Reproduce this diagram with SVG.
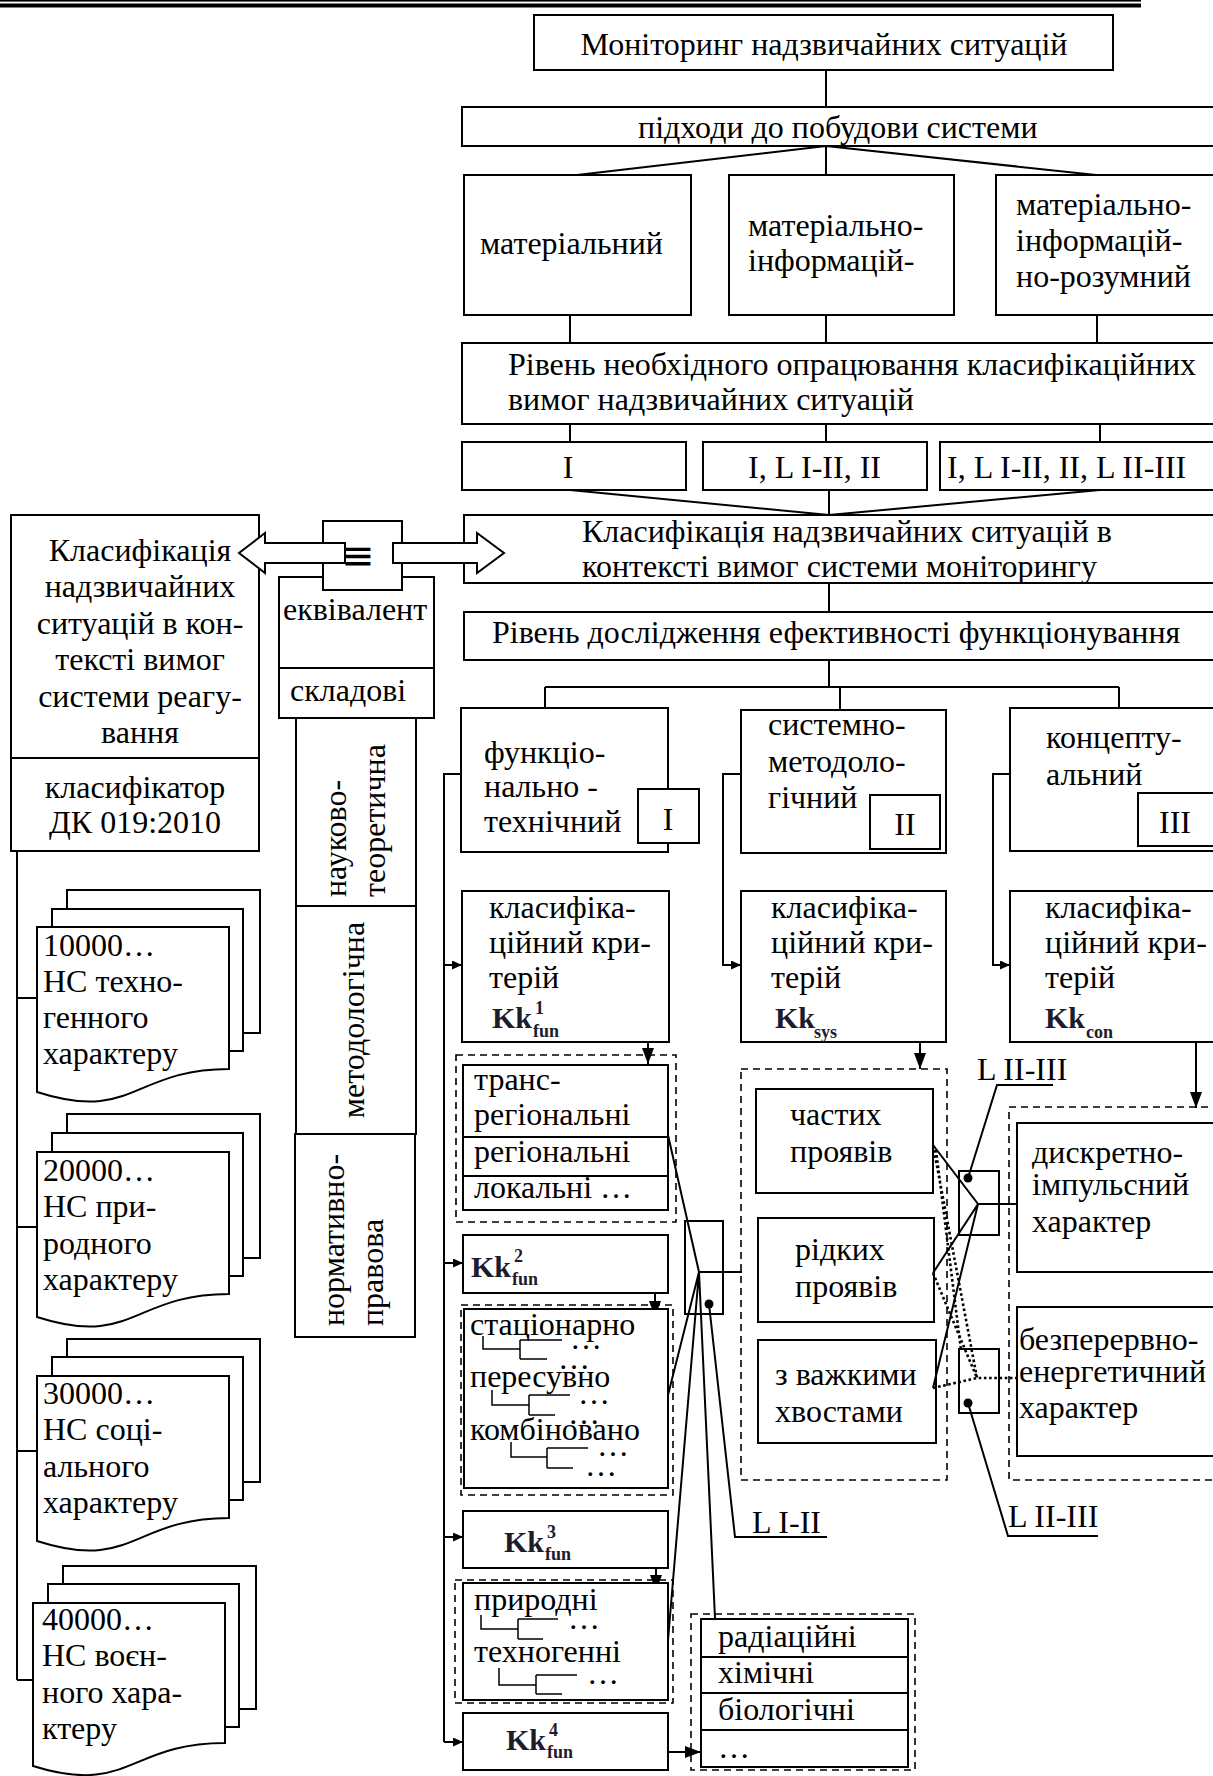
<svg xmlns="http://www.w3.org/2000/svg" width="1213" height="1776" viewBox="0 0 1213 1776">
<defs>
<style>
.b{fill:#fff;stroke:#000;stroke-width:2}
.t{font-family:"Liberation Serif","Times New Roman",serif;font-size:32px;fill:#000}
.m{text-anchor:middle}
.ln{fill:none;stroke:#000;stroke-width:2}
.th{fill:none;stroke:#000;stroke-width:1.5}
.ds{fill:none;stroke:#000;stroke-width:1.6;stroke-dasharray:7 5}
.dt{fill:none;stroke:#000;stroke-width:2.6;stroke-dasharray:2.6 2.6}
.kk{font-family:"Liberation Serif","Times New Roman",serif;font-weight:bold;font-size:30px;fill:#1c1c2c}
.ks{font-family:"Liberation Serif","Times New Roman",serif;font-weight:bold;font-size:18px;fill:#1c1c2c}
</style>
<marker id="ah" viewBox="0 0 16 12" refX="16" refY="6" markerWidth="16" markerHeight="12" markerUnits="userSpaceOnUse" orient="auto" preserveAspectRatio="none"><path d="M0,0 L16,6 L0,12 z" fill="#000"/></marker>
<marker id="as" viewBox="0 0 10 9" refX="10" refY="4.5" markerWidth="10" markerHeight="9" markerUnits="userSpaceOnUse" orient="auto" preserveAspectRatio="none"><path d="M0,0 L10,4.5 L0,9 z" fill="#000"/></marker>
</defs>
<rect width="1213" height="1776" fill="#fff"/>
<g id="header"><rect x="0" y="0" width="1141" height="1.6" fill="#000"/><rect x="0" y="3.5" width="1141" height="4" fill="#000"/></g>

<g id="connectors">
<path class="ln" d="M826,70 V107 M826,146 L577,175 M826,146 V175 M826,146 L1096,175"/>
<path class="ln" d="M570,315 V343 M826,315 V343 M1097,315 V343"/>
<path class="ln" d="M570,424 V442 M826,424 V442 M1100,424 V442"/>
<path class="ln" d="M570,490 L829,515 M829,490 V515 M1100,490 L829,515"/>
<path class="ln" d="M829,583 V612 M829,660 V687 M545,687 H1119 M545,687 V708 M840,687 V710 M1119,687 V708"/>
<path class="ln" d="M461,774 H444 V1742"/>
<path class="ln" d="M444,965 H462" marker-end="url(#as)"/>
<path class="ln" d="M444,1263 H463" marker-end="url(#as)"/>
<path class="ln" d="M444,1537 H463" marker-end="url(#as)"/>
<path class="ln" d="M444,1742 H463" marker-end="url(#as)"/>
<path class="ln" d="M741,774 H723 V965 H741" marker-end="url(#as)"/>
<path class="ln" d="M1010,774 H993 V965 H1010" marker-end="url(#as)"/>
<path class="ln" d="M648,1025 V1064" marker-end="url(#ah)"/>
<path class="ln" d="M920,1015 V1069" marker-end="url(#ah)"/>
<path class="ln" d="M1196,1025 V1108" marker-end="url(#ah)"/>
<path class="ln" d="M655,1272 V1317" marker-end="url(#ah)"/>
<path class="ln" d="M656,1556 V1591" marker-end="url(#ah)"/>
<path class="ln" d="M656,1752 H701" marker-end="url(#ah)"/>
<path class="ln" d="M17,851 V1680 M17,998 H37 M17,1227 H37 M17,1451 H37 M17,1680 H33"/>
</g>

<g id="n-monitoring"><rect class="b" x="534" y="15" width="579" height="55"/><text class="t m" x="824" y="55">Моніторинг надзвичайних ситуацій</text></g>
<g id="n-approaches"><rect class="b" x="462" y="107" width="760" height="39"/><text class="t" x="638" y="138">підходи до побудови системи</text></g>
<g id="n-material"><rect class="b" x="464" y="175" width="227" height="140"/><text class="t" x="480" y="254">матеріальний</text></g>
<g id="n-matinf"><rect class="b" x="729" y="175" width="225" height="140"/><text class="t" x="748" y="236">матеріально-</text><text class="t" x="748" y="271">інформацій-</text></g>
<g id="n-matinfraz"><rect class="b" x="996" y="175" width="226" height="140"/><text class="t" x="1016" y="215">матеріально-</text><text class="t" x="1016" y="251">інформацій-</text><text class="t" x="1016" y="287">но-розумний</text></g>
<g id="n-level1"><rect class="b" x="462" y="343" width="760" height="81"/><text class="t" x="508" y="375">Рівень необхідного опрацювання класифікаційних</text><text class="t" x="508" y="410">вимог надзвичайних ситуацій</text></g>
<g id="n-I"><rect class="b" x="462" y="442" width="224" height="48"/><text class="t m" x="568" y="478">I</text></g>
<g id="n-I-II"><rect class="b" x="703" y="442" width="224" height="48"/><text class="t" x="748" y="478">I, L I-II, II</text></g>
<g id="n-I-III"><rect class="b" x="940" y="442" width="282" height="48"/><text class="t" x="947" y="478">I, L I-II, II, L II-III</text></g>
<g id="n-class-mon"><rect class="b" x="464" y="515" width="758" height="68"/><text class="t" x="582" y="542">Класифікація надзвичайних ситуацій в</text><text class="t" x="582" y="577">контексті вимог системи моніторингу</text></g>
<g id="n-level2"><rect class="b" x="464" y="612" width="758" height="48"/><text class="t" x="492" y="643">Рівень дослідження ефективності функціонування</text></g>

<g id="n-functech"><rect class="b" x="461" y="708" width="207" height="144"/><text class="t" x="484" y="763">функціо-</text><text class="t" x="484" y="797">нально -</text><text class="t" x="484" y="832">технічний</text><rect class="b" x="638" y="789" width="61" height="54"/><text class="t m" x="668" y="830">I</text></g>
<g id="n-sysmet"><rect class="b" x="741" y="710" width="205" height="143"/><text class="t" x="768" y="735">системно-</text><text class="t" x="768" y="772">методоло-</text><text class="t" x="768" y="808">гічний</text><rect class="b" x="870" y="795" width="70" height="54"/><text class="t m" x="905" y="835">II</text></g>
<g id="n-concept"><rect class="b" x="1010" y="708" width="212" height="143"/><text class="t" x="1046" y="748">концепту-</text><text class="t" x="1046" y="785">альний</text><rect class="b" x="1138" y="793" width="84" height="53"/><text class="t m" x="1175" y="833">III</text></g>

<g id="n-crit1"><rect class="b" x="462" y="891" width="207" height="151"/><text class="t" x="489" y="918">класифіка-</text><text class="t" x="489" y="953">ційний кри-</text><text class="t" x="489" y="988">терій</text><text class="kk" x="492" y="1028">Kk</text><text class="ks" x="535" y="1014">1</text><text class="ks" x="533" y="1037">fun</text></g>
<g id="n-crit-sys"><rect class="b" x="741" y="891" width="205" height="151"/><text class="t" x="771" y="918">класифіка-</text><text class="t" x="771" y="953">ційний кри-</text><text class="t" x="771" y="988">терій</text><text class="kk" x="775" y="1028">Kk</text><text class="ks" x="814" y="1038">sys</text></g>
<g id="n-crit-con"><rect class="b" x="1010" y="891" width="212" height="151"/><text class="t" x="1045" y="918">класифіка-</text><text class="t" x="1045" y="953">ційний кри-</text><text class="t" x="1045" y="988">терій</text><text class="kk" x="1045" y="1028">Kk</text><text class="ks" x="1086" y="1038">con</text></g>

<g id="n-regional"><rect class="ds" x="456" y="1055" width="220" height="167"/><rect class="b" x="463" y="1065" width="205" height="145"/><path class="ln" d="M463,1137 H668 M463,1176 H668"/><text class="t" x="474" y="1090">транс-</text><text class="t" x="474" y="1125">регіональні</text><text class="t" x="474" y="1162">регіональні</text><text class="t" x="474" y="1198">локальні …</text></g>
<g id="n-kk2"><rect class="b" x="463" y="1235" width="205" height="58"/><text class="kk" x="471" y="1277">Kk</text><text class="ks" x="514" y="1262">2</text><text class="ks" x="512" y="1285">fun</text></g>
<g id="n-mobility"><rect class="ds" x="461" y="1305" width="212" height="190"/><rect class="b" x="464" y="1309" width="204" height="179"/>
<text class="t" x="470" y="1335">стаціонарно</text><path class="th" d="M483,1336 V1349 H520 M520,1340 V1359 M520,1340 H562 M520,1359 H547"/><text class="t" x="570" y="1349">…</text><text class="t" x="558" y="1369">…</text>
<text class="t" x="470" y="1387">пересувно</text><path class="th" d="M492,1390 V1405 H529 M529,1395 V1415 M529,1395 H570 M529,1415 H555"/><text class="t" x="578" y="1404">…</text><text class="t" x="568" y="1424">…</text>
<text class="t" x="470" y="1440">комбіновано</text><path class="th" d="M511,1442 V1457 H547 M547,1448 V1468 M547,1448 H588 M547,1468 H573"/><text class="t" x="597" y="1456">…</text><text class="t" x="585" y="1476">…</text></g>
<g id="n-kk3"><rect class="b" x="463" y="1511" width="205" height="57"/><text class="kk" x="504" y="1552">Kk</text><text class="ks" x="547" y="1538">3</text><text class="ks" x="545" y="1560">fun</text></g>
<g id="n-origin"><rect class="ds" x="455" y="1580" width="218" height="123"/><rect class="b" x="463" y="1583" width="205" height="117"/>
<text class="t" x="474" y="1610">природні</text><path class="th" d="M481,1615 V1629 H518 M518,1619 V1639 M518,1619 H558 M518,1639 H543"/><text class="t" x="568" y="1629">…</text>
<text class="t" x="474" y="1662">техногенні</text><path class="th" d="M499,1668 V1685 H536 M536,1675 V1694 M536,1675 H577 M536,1694 H562"/><text class="t" x="587" y="1684">…</text></g>
<g id="n-kk4"><rect class="b" x="463" y="1713" width="205" height="57"/><text class="kk" x="506" y="1750">Kk</text><text class="ks" x="549" y="1736">4</text><text class="ks" x="547" y="1758">fun</text></g>
<g id="n-hazard"><rect class="ds" x="691" y="1614" width="224" height="156"/><rect class="b" x="701" y="1619" width="207" height="148"/><path class="ln" d="M701,1657 H908 M701,1693 H908 M701,1730 H908"/><text class="t" x="718" y="1647">радіаційні</text><text class="t" x="718" y="1683">хімічні</text><text class="t" x="718" y="1720">біологічні</text><text class="t" x="718" y="1758">…</text></g>

<g id="n-freq"><rect class="ds" x="741" y="1069" width="206" height="411"/>
<rect class="b" x="756" y="1089" width="177" height="104"/><text class="t" x="790" y="1125">частих</text><text class="t" x="790" y="1162">проявів</text>
<rect class="b" x="758" y="1218" width="176" height="104"/><text class="t" x="795" y="1260">рідких</text><text class="t" x="795" y="1297">проявів</text>
<rect class="b" x="758" y="1340" width="178" height="103"/><text class="t" x="775" y="1385">з важкими</text><text class="t" x="775" y="1422">хвостами</text></g>
<g id="n-char"><rect class="ds" x="1009" y="1107" width="215" height="373"/>
<rect class="b" x="1017" y="1123" width="205" height="149"/><text class="t" x="1032" y="1163">дискретно-</text><text class="t" x="1032" y="1195">імпульсний</text><text class="t" x="1032" y="1232">характер</text>
<rect class="b" x="1017" y="1307" width="205" height="149"/><text class="t" x="1019" y="1350">безперервно-</text><text class="t" x="1019" y="1382">енергетичний</text><text class="t" x="1019" y="1418">характер</text></g>

<g id="n-junction1"><rect x="685" y="1221" width="38" height="93" style="fill:none;stroke:#000;stroke-width:2"/>
<path class="ln" d="M668,1135 L699,1272 L668,1395 M699,1272 L668,1640 M699,1272 L715,1618 M699,1272 H742"/>
<circle cx="709" cy="1304" r="4.5" fill="#000"/><path class="ln" d="M709,1304 L735,1537 H827"/><text class="t" x="752" y="1533">L I-II</text></g>
<g id="n-junction2"><rect x="959" y="1171" width="40" height="64" style="fill:none;stroke:#000;stroke-width:2"/>
<path class="ln" d="M933,1145 L978,1204 L933,1273 M978,1204 L933,1388 M978,1204 H1017"/>
<circle cx="968" cy="1178" r="4.5" fill="#000"/><path class="ln" d="M968,1178 L997,1085 H1053"/><text class="t" x="977" y="1080">L II-III</text></g>
<g id="n-junction3"><rect x="959" y="1349" width="40" height="64" style="fill:none;stroke:#000;stroke-width:2"/>
<path class="dt" d="M933,1145 L977,1378 M936,1150 L961,1350 M933,1273 L977,1378 M933,1388 L977,1378 H1017"/>
<circle cx="968" cy="1403" r="4.5" fill="#000"/><path class="ln" d="M968,1403 L1008,1536 H1098"/><text class="t" x="1008" y="1527">L II-III</text></g>

<g id="n-class-resp"><rect class="b" x="11" y="515" width="248" height="336"/><path class="ln" d="M11,758 H259"/>
<text class="t m" x="140" y="561">Класифікація</text><text class="t m" x="140" y="597">надзвичайних</text><text class="t m" x="140" y="634">ситуацій в кон-</text><text class="t m" x="140" y="670">тексті вимог</text><text class="t m" x="140" y="707">системи реагу-</text><text class="t m" x="140" y="743">вання</text>
<text class="t m" x="135" y="798">класифікатор</text><text class="t m" x="135" y="833">ДК 019:2010</text></g>
<g id="n-equiv"><rect class="b" x="279" y="577" width="155" height="91"/><text class="t" x="283" y="620">еквівалент</text><rect class="b" x="279" y="668" width="155" height="50"/><text class="t" x="290" y="701">складові</text>
<rect class="b" x="323" y="521" width="79" height="69"/><text x="358" y="569" text-anchor="middle" style="font-family:'DejaVu Sans',sans-serif;font-size:40px;fill:#000">≡</text></g>
<g id="n-arrows"><polygon class="b" points="239,553 265,533 265,543 345,543 345,563 265,563 265,573"/><polygon class="b" points="393,543 477,543 477,533 504,553 477,573 477,563 393,563"/></g>
<g id="n-sci"><rect class="b" x="296" y="718" width="120" height="188"/><text class="t" transform="translate(346,897) rotate(-90)">науково-</text><text class="t" transform="translate(385,897) rotate(-90)">теоретична</text></g>
<g id="n-method"><rect class="b" x="296" y="906" width="120" height="228"/><text class="t m" transform="translate(364,1020) rotate(-90)">методологічна</text></g>
<g id="n-norm"><rect class="b" x="295" y="1134" width="120" height="203"/><text class="t" transform="translate(344,1326) rotate(-90)">нормативно-</text><text class="t" transform="translate(383,1326) rotate(-90)">правова</text></g>

<g id="n-doc1"><rect class="b" x="67" y="890" width="193" height="143"/><rect class="b" x="52" y="909" width="191" height="142"/><path class="b" d="M37,927 H229 V1069 C133,1069 133,1123 37,1092 Z"/>
<text class="t" x="43" y="956">10000…</text><text class="t" x="43" y="992">НС техно-</text><text class="t" x="43" y="1028">генного</text><text class="t" x="43" y="1064">характеру</text></g>
<g id="n-doc2"><rect class="b" x="67" y="1114" width="193" height="144"/><rect class="b" x="52" y="1133" width="191" height="143"/><path class="b" d="M37,1152 H229 V1294 C133,1294 133,1348 37,1317 Z"/>
<text class="t" x="43" y="1181">20000…</text><text class="t" x="43" y="1217">НС при-</text><text class="t" x="43" y="1254">родного</text><text class="t" x="43" y="1290">характеру</text></g>
<g id="n-doc3"><rect class="b" x="67" y="1339" width="193" height="143"/><rect class="b" x="52" y="1357" width="191" height="143"/><path class="b" d="M37,1376 H229 V1518 C133,1518 133,1572 37,1541 Z"/>
<text class="t" x="43" y="1404">30000…</text><text class="t" x="43" y="1440">НС соці-</text><text class="t" x="43" y="1477">ального</text><text class="t" x="43" y="1513">характеру</text></g>
<g id="n-doc4"><rect class="b" x="63" y="1566" width="193" height="143"/><rect class="b" x="48" y="1584" width="191" height="143"/><path class="b" d="M33,1603 H225 V1743 C129,1743 129,1796 33,1766 Z"/>
<text class="t" x="42" y="1630">40000…</text><text class="t" x="42" y="1666">НС воєн-</text><text class="t" x="42" y="1703">ного хара-</text><text class="t" x="42" y="1739">ктеру</text></g>
</svg>
